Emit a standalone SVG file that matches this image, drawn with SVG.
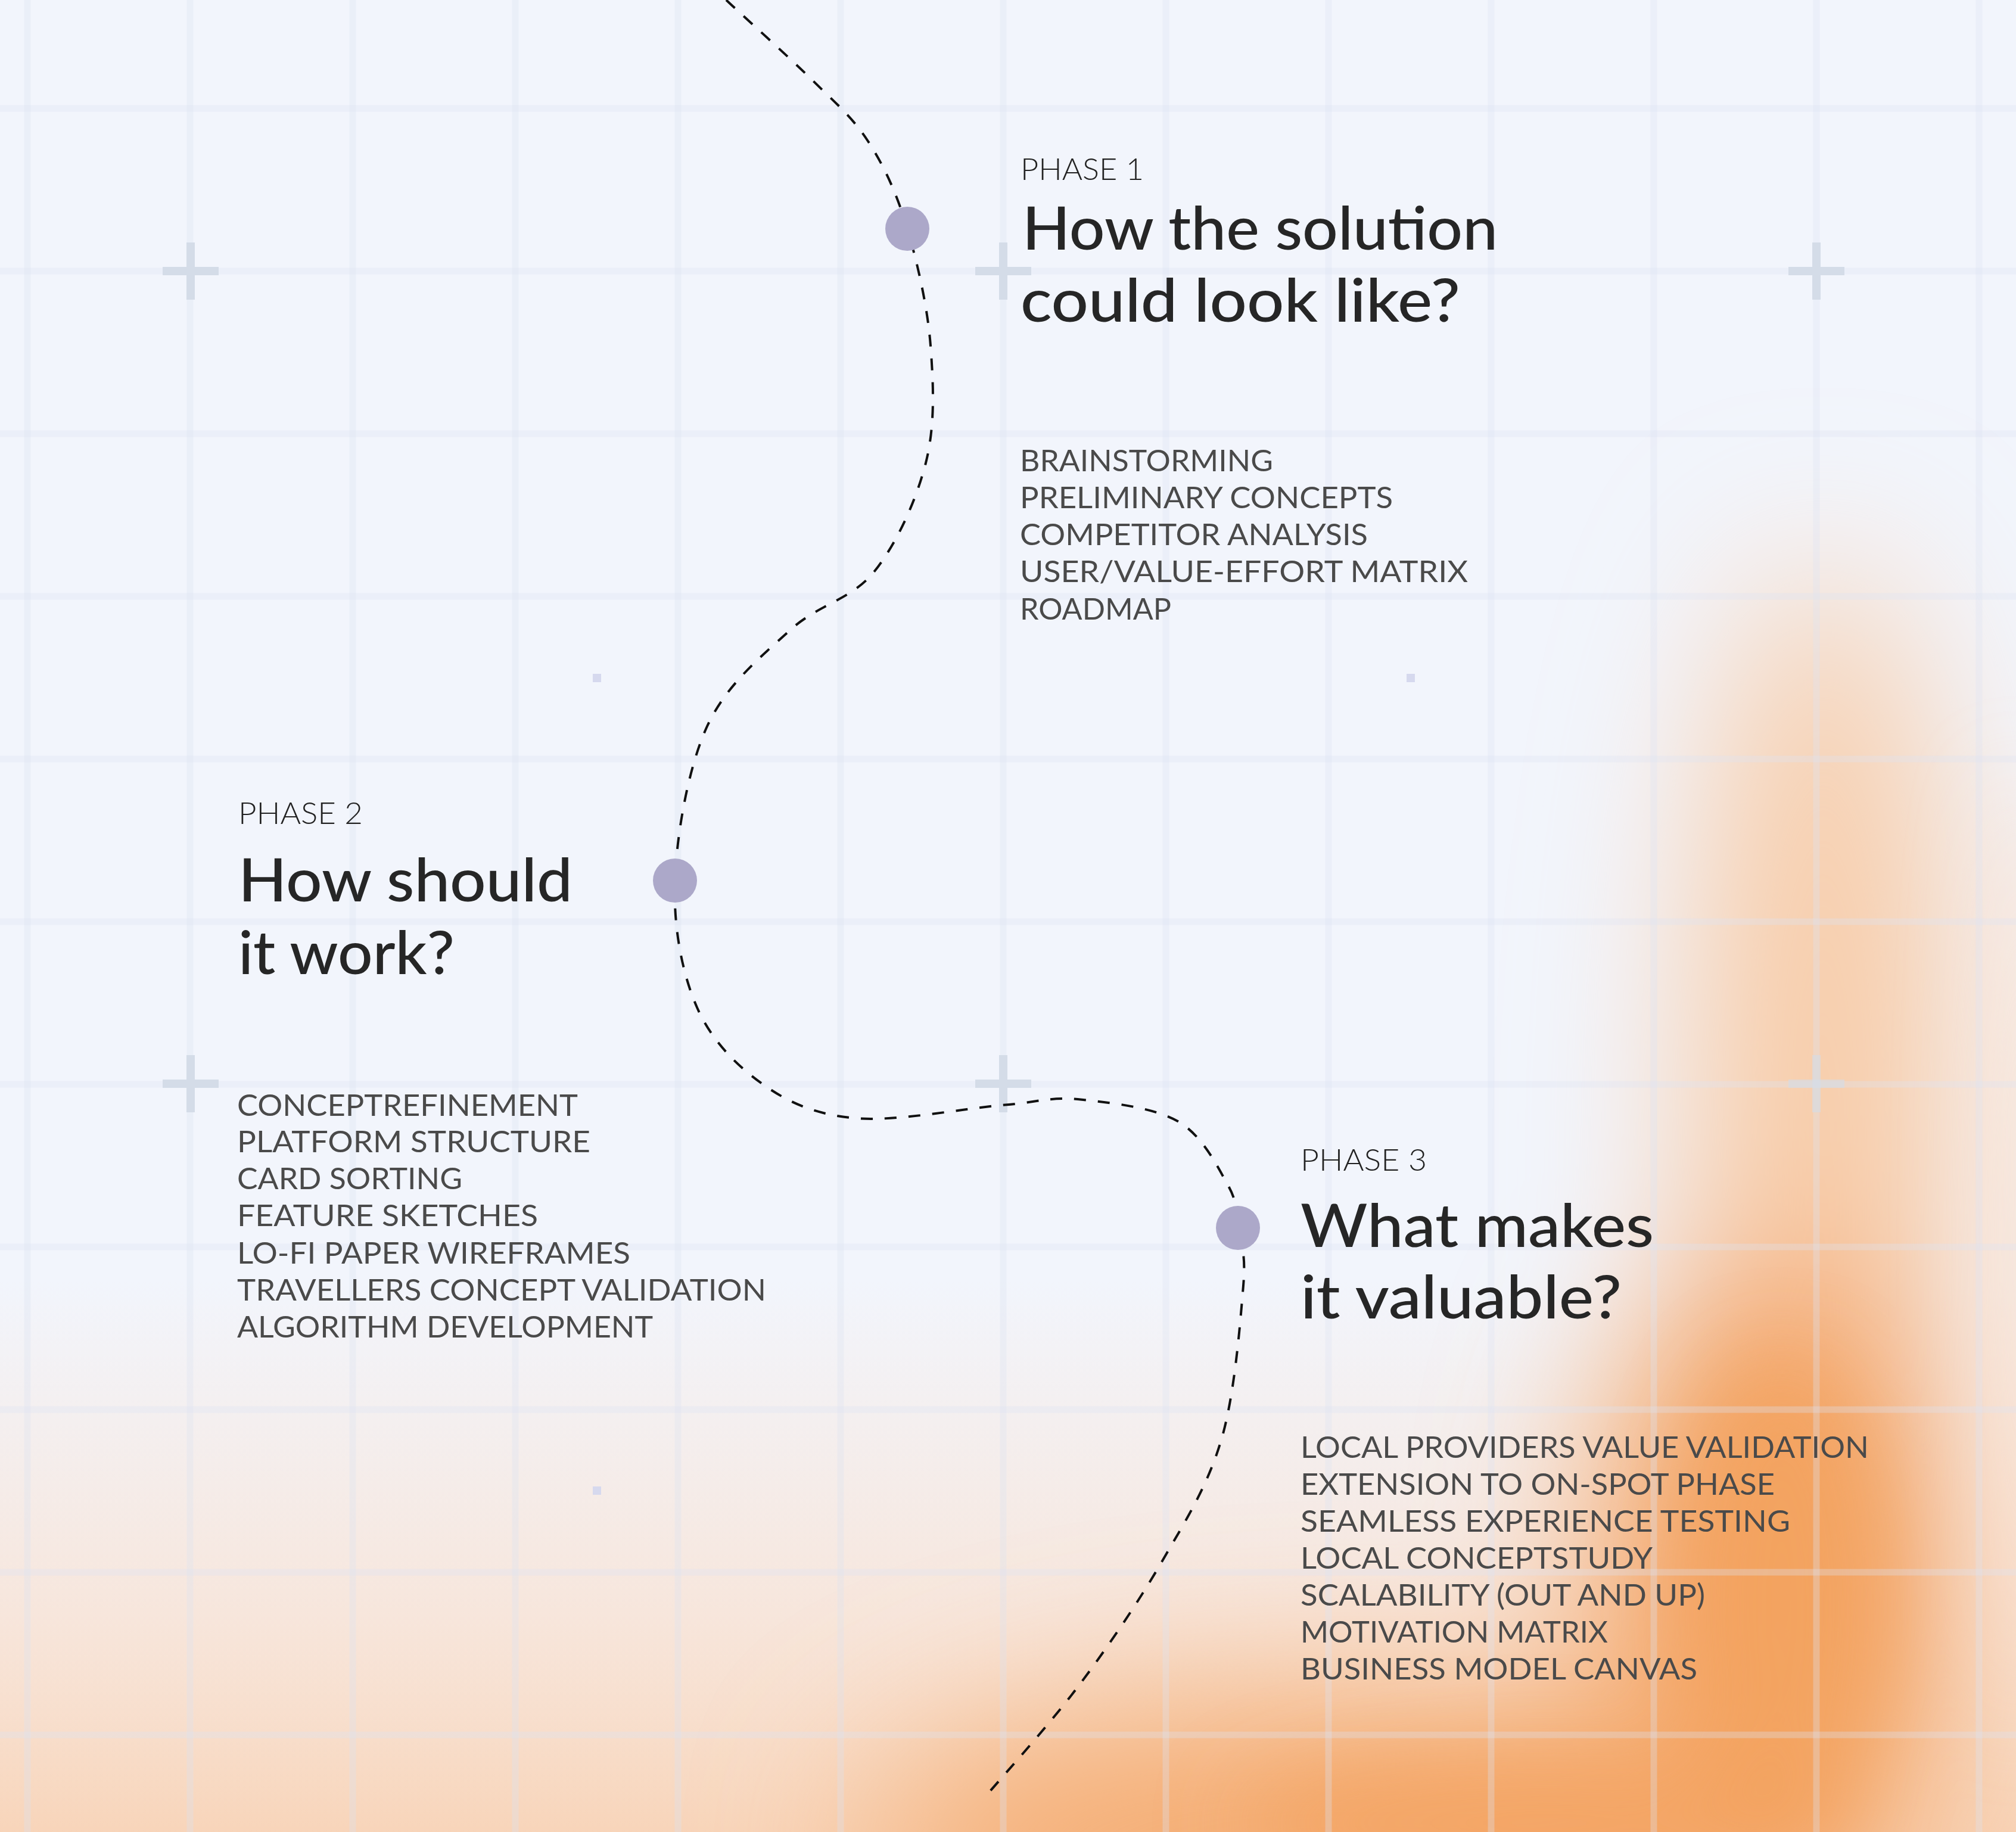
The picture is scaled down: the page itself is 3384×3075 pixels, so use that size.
<svg xmlns="http://www.w3.org/2000/svg" width="3384" height="3075" viewBox="0 0 3384 3075">
<defs>
<style>
.ttl{font-family:Lato,"Noto Sans",sans-serif;font-size:100px;font-weight:500;fill:#262626}
.ph{font-family:Lato,"Noto Sans",sans-serif;font-size:51px;font-weight:300;fill:#222}
.it{font-family:Lato,"Noto Sans",sans-serif;font-size:50px;font-weight:400;fill:#4a4a4a}
.dot{fill:#aca8c9}
.grid line{stroke:#dce3f1;stroke-width:11;opacity:.33}
.plus{fill:#d4dce8}
.sq{fill:#d6d9ee}
.conn{fill:none;stroke:#111;stroke-width:4;stroke-dasharray:20 20}
</style>
<filter id="blur" filterUnits="userSpaceOnUse" x="-800" y="-800" width="5000" height="4700">
<feGaussianBlur stdDeviation="140"/>
</filter>
<filter id="blur2" filterUnits="userSpaceOnUse" x="-800" y="-800" width="5000" height="4700">
<feGaussianBlur stdDeviation="70"/>
</filter>
<linearGradient id="bot" x1="0" y1="0" x2="0" y2="1">
<stop offset="0" stop-color="#fbdcc6" stop-opacity="0"/>
<stop offset="0.6" stop-color="#fbdac2" stop-opacity="0.55"/>
<stop offset="1" stop-color="#f9cfae" stop-opacity="0.85"/>
</linearGradient>
</defs>
<rect width="3384" height="3075" fill="#f2f5fc"/>
<rect x="0" y="2150" width="3384" height="925" fill="url(#bot)"/>
<g filter="url(#blur)">
<ellipse cx="3060" cy="1950" rx="220" ry="1000" fill="#f8cba6"/>
<ellipse cx="2980" cy="2650" rx="300" ry="540" fill="#f4a465"/>
<ellipse cx="2300" cy="3110" rx="850" ry="260" fill="#f5ae74"/>
</g>
<g filter="url(#blur2)">
<ellipse cx="2990" cy="2700" rx="170" ry="420" fill="#f3a15e" opacity="0.75"/>
<ellipse cx="2600" cy="3060" rx="520" ry="120" fill="#f3a15e" opacity="0.7"/>
<ellipse cx="3390" cy="2100" rx="55" ry="800" fill="#fbe1cf" opacity="0.8"/>
</g>
<g class="grid">
<line x1="46" y1="0" x2="46" y2="3075"/>
<line x1="319" y1="0" x2="319" y2="3075"/>
<line x1="592" y1="0" x2="592" y2="3075"/>
<line x1="865" y1="0" x2="865" y2="3075"/>
<line x1="1138" y1="0" x2="1138" y2="3075"/>
<line x1="1411" y1="0" x2="1411" y2="3075"/>
<line x1="1684" y1="0" x2="1684" y2="3075"/>
<line x1="1957" y1="0" x2="1957" y2="3075"/>
<line x1="2230" y1="0" x2="2230" y2="3075"/>
<line x1="2503" y1="0" x2="2503" y2="3075"/>
<line x1="2776" y1="0" x2="2776" y2="3075"/>
<line x1="3049" y1="0" x2="3049" y2="3075"/>
<line x1="3322" y1="0" x2="3322" y2="3075"/>
<line x1="0" y1="182" x2="3384" y2="182"/>
<line x1="0" y1="455" x2="3384" y2="455"/>
<line x1="0" y1="728" x2="3384" y2="728"/>
<line x1="0" y1="1001" x2="3384" y2="1001"/>
<line x1="0" y1="1274" x2="3384" y2="1274"/>
<line x1="0" y1="1547" x2="3384" y2="1547"/>
<line x1="0" y1="1820" x2="3384" y2="1820"/>
<line x1="0" y1="2093" x2="3384" y2="2093"/>
<line x1="0" y1="2366" x2="3384" y2="2366"/>
<line x1="0" y1="2639" x2="3384" y2="2639"/>
<line x1="0" y1="2912" x2="3384" y2="2912"/>
</g>
<g id="marks">
<g class="plus">
<rect x="273" y="448" width="94" height="14"/><rect x="313" y="407" width="14" height="96"/>
<rect x="1637" y="448" width="94" height="14"/><rect x="1677" y="407" width="14" height="96"/>
<rect x="3002" y="448" width="94" height="14"/><rect x="3042" y="407" width="14" height="96"/>
<rect x="273" y="1812" width="94" height="14"/><rect x="313" y="1771" width="14" height="96"/>
<rect x="1637" y="1812" width="94" height="14"/><rect x="1677" y="1771" width="14" height="96"/>
<rect x="3002" y="1812" width="94" height="14" opacity="0.6"/><rect x="3042" y="1771" width="14" height="96" opacity="0.6"/>
</g>
<g class="sq">
<rect x="995" y="1131" width="14" height="14"/>
<rect x="2361" y="1131" width="14" height="14"/>
<rect x="995" y="2495" width="14" height="14"/>
</g>
</g>
<g id="connectors">
<path class="conn" d="M1219,0 C1242,22 1318,90 1358,129 C1398,169 1430,195 1457,237 C1485,280 1506,327 1523,384 C1540,441 1557,515 1562,580 C1567,646 1570,714 1554,777 C1538,840 1505,913 1467,960 C1429,1007 1374,1014 1327,1057 C1280,1100 1219,1149 1187,1219 C1155,1289 1136,1399 1133,1478 C1130,1557 1145,1634 1170,1691 C1195,1748 1238,1790 1282,1821 C1326,1852 1370,1871 1437,1877 C1504,1883 1620,1860 1682,1855 C1744,1850 1760,1841 1809,1845 C1858,1850 1935,1858 1977,1882 C2019,1906 2044,1959 2061,1989 C2078,2019 2074,2033 2078,2061 C2082,2089 2092,2099 2087,2158 C2082,2217 2073,2340 2050,2417 C2027,2494 1991,2551 1951,2620 C1911,2689 1858,2767 1808,2833 C1758,2899 1678,2987 1652,3018"/>
</g>
<g id="phase1">
<circle class="dot" cx="1523" cy="384" r="37"/>
<text class="ph" x="1713" y="302" textLength="207" lengthAdjust="spacingAndGlyphs">PHASE 1</text>
<text class="ttl" x="1716" y="419" textLength="798" lengthAdjust="spacingAndGlyphs">How the solution</text>
<text class="ttl" x="1713" y="540" textLength="738" lengthAdjust="spacingAndGlyphs">could look like?</text>
<text class="it" x="1712" y="791" textLength="425" lengthAdjust="spacingAndGlyphs">BRAINSTORMING</text>
<text class="it" x="1712" y="853" textLength="626" lengthAdjust="spacingAndGlyphs">PRELIMINARY CONCEPTS</text>
<text class="it" x="1712" y="915" textLength="584" lengthAdjust="spacingAndGlyphs">COMPETITOR ANALYSIS</text>
<text class="it" x="1712" y="977" textLength="752" lengthAdjust="spacingAndGlyphs">USER/VALUE-EFFORT MATRIX</text>
<text class="it" x="1712" y="1040" textLength="254" lengthAdjust="spacingAndGlyphs">ROADMAP</text>
</g>
<g id="phase2">
<circle class="dot" cx="1133" cy="1478" r="37"/>
<text class="ph" x="400" y="1383" textLength="209" lengthAdjust="spacingAndGlyphs">PHASE 2</text>
<text class="ttl" x="400" y="1513" textLength="561" lengthAdjust="spacingAndGlyphs">How should</text>
<text class="ttl" x="400" y="1635" textLength="363" lengthAdjust="spacingAndGlyphs">it work?</text>
<text class="it" x="398" y="1873" textLength="572" lengthAdjust="spacingAndGlyphs">CONCEPTREFINEMENT</text>
<text class="it" x="398" y="1934" textLength="593" lengthAdjust="spacingAndGlyphs">PLATFORM STRUCTURE</text>
<text class="it" x="398" y="1996" textLength="378" lengthAdjust="spacingAndGlyphs">CARD SORTING</text>
<text class="it" x="398" y="2058" textLength="505" lengthAdjust="spacingAndGlyphs">FEATURE SKETCHES</text>
<text class="it" x="398" y="2121" textLength="660" lengthAdjust="spacingAndGlyphs">LO-FI PAPER WIREFRAMES</text>
<text class="it" x="398" y="2183" textLength="888" lengthAdjust="spacingAndGlyphs">TRAVELLERS CONCEPT VALIDATION</text>
<text class="it" x="398" y="2245" textLength="698" lengthAdjust="spacingAndGlyphs">ALGORITHM DEVELOPMENT</text>
</g>
<g id="phase3">
<circle class="dot" cx="2078" cy="2061" r="37"/>
<text class="ph" x="2183" y="1965" textLength="212" lengthAdjust="spacingAndGlyphs">PHASE 3</text>
<text class="ttl" x="2183" y="2093" textLength="593" lengthAdjust="spacingAndGlyphs">What makes</text>
<text class="ttl" x="2183" y="2213" textLength="539" lengthAdjust="spacingAndGlyphs">it valuable?</text>
<text class="it" x="2183" y="2447" textLength="954" lengthAdjust="spacingAndGlyphs">LOCAL PROVIDERS VALUE VALIDATION</text>
<text class="it" x="2183" y="2509" textLength="796" lengthAdjust="spacingAndGlyphs">EXTENSION TO ON-SPOT PHASE</text>
<text class="it" x="2183" y="2571" textLength="822" lengthAdjust="spacingAndGlyphs">SEAMLESS EXPERIENCE TESTING</text>
<text class="it" x="2183" y="2633" textLength="591" lengthAdjust="spacingAndGlyphs">LOCAL CONCEPTSTUDY</text>
<text class="it" x="2183" y="2695" textLength="679" lengthAdjust="spacingAndGlyphs">SCALABILITY (OUT AND UP)</text>
<text class="it" x="2183" y="2757" textLength="516" lengthAdjust="spacingAndGlyphs">MOTIVATION MATRIX</text>
<text class="it" x="2183" y="2819" textLength="666" lengthAdjust="spacingAndGlyphs">BUSINESS MODEL CANVAS</text>
</g>
</svg>
